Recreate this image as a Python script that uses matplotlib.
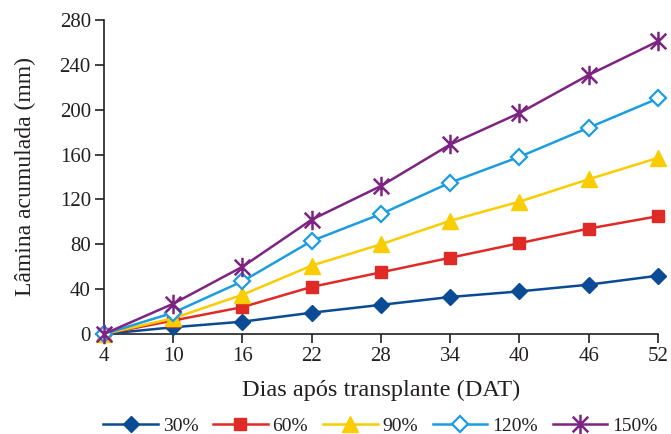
import matplotlib
matplotlib.use("Agg")
import matplotlib.pyplot as plt
from matplotlib.path import Path

days = [4, 10, 16, 22, 28, 34, 40, 46, 52]
labels = ["30%", "60%", "90%", "120%", "150%"]
s30 = [0, 6, 11, 19, 26, 33, 38, 44, 52]
s60 = [0, 12, 24, 42, 55, 68, 81, 94, 105]
s90 = [0, 14, 35, 61, 80, 101, 118, 138, 157]
s120 = [0, 19, 47, 83, 107, 135, 158, 184, 210]
s150 = [0, 27, 60, 102, 132, 169, 197, 231, 261]
yticks = [0, 40, 80, 120, 160, 200, 240, 280]

plt.rcParams['font.family'] = ['Liberation Serif', 'DejaVu Serif']
axcol = '#231F20'

star = Path([(0, -1), (0, 1), (-0.8, -0.8), (0.8, 0.8), (-0.8, 0.8), (0.8, -0.8)],
            [Path.MOVETO, Path.LINETO, Path.MOVETO, Path.LINETO, Path.MOVETO, Path.LINETO])

fig = plt.figure(figsize=(6.71, 4.34), dpi=100)
ax = fig.add_axes([0.155, 0.2304, 0.8256, 0.7236])

styles = [
    dict(color='#0B4A94', marker='D', ms=8, mfc='#0B4A94', mec='#0B4A94'),
    dict(color='#E02A26', marker='s', ms=9, mfc='#E02A26', mec='#E02A26'),
    dict(color='#F9CD00', marker='^', ms=11, mfc='#F9CD00', mec='#F9CD00'),
    dict(color='#1B9DE0', marker='D', ms=8, mfc='white', mec='#1B9DE0', mew=1.6),
    dict(color='#7D2382', marker=star, ms=14, mfc='none', mec='#7D2382', mew=1.8),
]
for vals, lab, st in zip([s30, s60, s90, s120, s150], labels, styles):
    ax.plot(days, vals, lw=1.8, label=lab, clip_on=False, zorder=3, **st)

ax.set_xlim(4, 52)
ax.set_ylim(0, 280)
ax.set_xticks(days)
ax.set_yticks(yticks)
for sp in ['top', 'right']:
    ax.spines[sp].set_visible(False)
for sp in ['left', 'bottom']:
    ax.spines[sp].set_color(axcol)
    ax.spines[sp].set_linewidth(1.2)
ax.tick_params(axis='both', direction='out', length=6.5, width=1.2, color=axcol,
               labelsize=15, labelcolor=axcol, pad=3)
ax.set_xlabel('Dias após transplante (DAT)', fontsize=17.5, color=axcol, labelpad=10)
ax.set_ylabel('Lâmina acumulada (mm)', fontsize=17, color=axcol, labelpad=17)

leg = fig.legend(loc='center', bbox_to_anchor=(0.567, 0.018), ncol=5, frameon=False,
                 fontsize=14, handlelength=2.8, columnspacing=0.77, handletextpad=0.25)
for t in leg.get_texts():
    t.set_color(axcol)

fig.savefig('out.png', dpi=100)
